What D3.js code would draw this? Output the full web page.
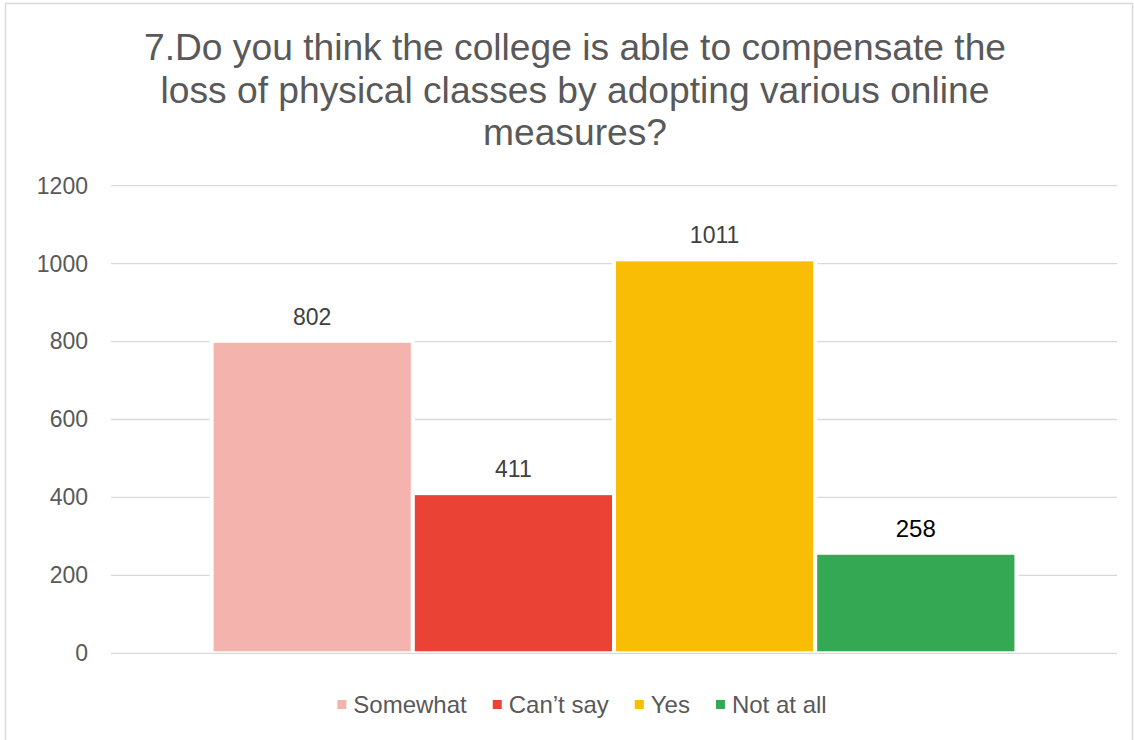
<!DOCTYPE html>
<html>
<head>
<meta charset="utf-8">
<script src="https://cdn.jsdelivr.net/npm/d3@7"></script>
<style>
  html, body { margin: 0; padding: 0; background: #ffffff; }
  svg text { font-family: "Liberation Sans", Arial, sans-serif; }
</style>
</head>
<body>
<svg id="chart" width="1134" height="740"></svg>
<script>
// ---- data ----
const titleLines = [
  "7.Do you think the college is able to compensate the",
  "loss of physical classes by adopting various online",
  "measures?"
];
const seriesNames = ["Somewhat", "Can\u2019t say", "Yes", "Not at all"];
const seriesValues = [802, 411, 1011, 258];
const seriesColors = ["#F5B3AE", "#EA4335", "#FABD05", "#34A853"];
const yTicks = [0, 200, 400, 600, 800, 1000, 1200];

// ---- layout ----
const W = 1134, H = 740;
const plot = { left: 111, right: 1117, top: 185.7, bottom: 653.3 };

const svg = d3.select("#chart");

// chart border
svg.append("rect")
  .attr("x", 5.5).attr("y", 3.5)
  .attr("width", 1127).attr("height", 745)
  .attr("fill", "#ffffff")
  .attr("stroke", "#d9d9d9").attr("stroke-width", 1.5);

// title
const title = svg.append("text")
  .attr("text-anchor", "middle")
  .attr("fill", "#595959")
  .style("font-size", "37.2px");
titleLines.forEach((t, i) => {
  title.append("tspan").attr("x", 575).attr("y", 60 + i * 42.5).text(t);
});

// scales
const y = d3.scaleLinear().domain([0, 1200]).range([plot.bottom, plot.top]);
const x = d3.scaleBand().domain(seriesNames).range([plot.left, plot.right]).paddingOuter(0.5).paddingInner(0);

// gridlines
svg.append("g").selectAll("line").data(yTicks.filter(d => d !== 0)).join("line")
  .attr("x1", plot.left).attr("x2", plot.right)
  .attr("y1", d => y(d)).attr("y2", d => y(d))
  .attr("stroke", "#d9d9d9").attr("stroke-width", 1.3);

// y axis labels
const yAxis = d3.axisLeft(y).tickValues(yTicks).tickSize(0).tickPadding(0).tickFormat(d3.format("d"));
const gy = svg.append("g").attr("transform", `translate(88,0)`).call(yAxis);
gy.select(".domain").remove();
gy.selectAll("text")
  .attr("fill", "#595959")
  .style("font-size", "23px")
  .style("font-family", "\"Liberation Sans\", Arial, sans-serif");

// bars
const data = seriesNames.map((n, i) => ({ name: n, value: seriesValues[i], color: seriesColors[i] }));
svg.append("g").selectAll("rect").data(data).join("rect")
  .attr("x", d => x(d.name))
  .attr("y", d => y(d.value))
  .attr("width", x.bandwidth())
  .attr("height", d => y(0) - y(d.value))
  .attr("fill", d => d.color)
  .attr("stroke", "#ffffff").attr("stroke-width", 4);

// zero line
svg.append("line")
  .attr("x1", plot.left).attr("x2", plot.right)
  .attr("y1", y(0)).attr("y2", y(0))
  .attr("stroke", "#d9d9d9").attr("stroke-width", 1.3);

// data labels
svg.append("g").selectAll("text").data(data).join("text")
  .attr("x", d => x(d.name) + x.bandwidth() / 2)
  .attr("y", d => y(d.value) - 16)
  .attr("text-anchor", "middle")
  .attr("fill", (d, i) => i === 3 ? "#000000" : "#404040")
  .style("font-size", (d, i) => i === 3 ? "24px" : "23px")
  .text(d => d.value);

// legend
const legend = svg.append("g");
const items = legend.selectAll("g").data(data).join("g");
items.append("rect")
  .attr("width", 9).attr("height", 9)
  .attr("y", 700)
  .attr("fill", d => d.color);
items.append("text")
  .attr("x", 16).attr("y", 712.5)
  .attr("fill", "#595959")
  .style("font-size", "24px")
  .text(d => d.name);
const gap = 26;
const widths = [];
items.each(function() { widths.push(16 + d3.select(this).select("text").node().getComputedTextLength()); });
const total = widths.reduce((a, b) => a + b, 0) + gap * (widths.length - 1);
let start = 582 - total / 2;
items.attr("transform", (d, i) => {
  const tx = start;
  start += widths[i] + gap;
  return `translate(${tx},0)`;
});
</script>
</body>
</html>
